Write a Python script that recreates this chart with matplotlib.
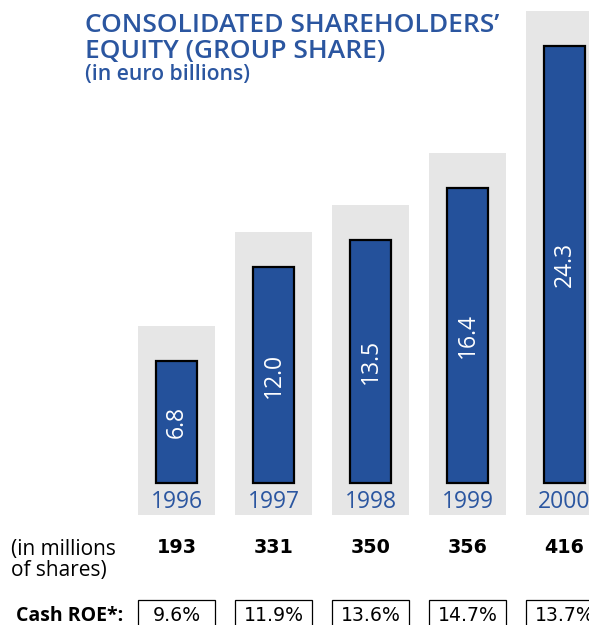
import matplotlib
matplotlib.use("Agg")
import matplotlib.pyplot as plt
import numpy as np

# data
years = ["1996", "1997", "1998", "1999", "2000"]
equity = [6.8, 12.0, 13.5, 16.4, 24.3]
shares = ["193", "331", "350", "356", "416"]
cash_roe = ["9.6%", "11.9%", "13.6%", "14.7%", "13.7%"]

BLUE = "#24519b"
TEXT_BLUE = "#2b56a0"
GRAY = "#e6e6e6"
FONT = "Open Sans"
WIDE = "DejaVu Sans"

W, H = 589, 625
fig = plt.figure(figsize=(W / 100, H / 100), dpi=100)
ax = fig.add_axes([0, 0, 1, 1])

# pixel mapping: value 0 sits at y=483 px, 18 px per billion; bar pitch 97 px
def vy(py):
    return (483 - py) / 18.0

ax.set_xlim(-176.5 / 97, (W - 176.5) / 97)
ax.set_ylim(vy(H), vy(0))
ax.axis("off")

x = np.arange(len(years))
vals = np.array(equity)

# gray backdrops
bg_bottom = vy(515)
ax.bar(x, vals + 1.95 - bg_bottom, bottom=bg_bottom, width=0.804,
       color=GRAY, linewidth=0, zorder=1)
# bars
ax.bar(x, vals, width=0.423, color=BLUE, edgecolor="black",
       linewidth=1.6, zorder=2)

for xi, v, yr in zip(x, vals, years):
    ax.text(xi, v / 2, f"{v:.1f}", rotation=90, ha="center", va="center",
            color="white", fontsize=16.5, family=FONT, zorder=3)
    ax.text(xi, vy(508), yr, ha="center", va="baseline", color=TEXT_BLUE,
            fontsize=16.5, family=FONT, zorder=3)

# number of shares row
for xi, s in zip(x, shares):
    ax.text(xi, vy(553), s, ha="center", va="baseline", color="black",
            fontsize=13.8, fontweight="bold", family=WIDE)
fig.text(11 / W, 1 - 555 / H, "(in millions", ha="left", va="baseline",
         fontsize=15, family=FONT)
fig.text(11 / W, 1 - 576 / H, "of shares)", ha="left", va="baseline",
         fontsize=15, family=FONT)

# cash ROE row
box_bottom = vy(640)
ax.bar(x, vy(600) - box_bottom, bottom=box_bottom, width=0.79, fill=False,
       edgecolor="black", linewidth=0.9, zorder=2)
for xi, r in zip(x, cash_roe):
    ax.text(xi, vy(621), r, ha="center", va="baseline", color="black",
            fontsize=13.6, family=WIDE)
fig.text(123 / W, 1 - 621 / H, "Cash ROE*:", ha="right", va="baseline",
         fontsize=14, fontweight="bold", family=FONT)

# title
fig.text(85 / W, 1 - 32 / H, "CONSOLIDATED SHAREHOLDERS\u2019", ha="left",
         va="baseline", color=TEXT_BLUE, fontsize=19, fontweight="semibold",
         family=FONT)
fig.text(85 / W, 1 - 58 / H, "EQUITY (GROUP SHARE)", ha="left",
         va="baseline", color=TEXT_BLUE, fontsize=19, fontweight="semibold",
         family=FONT)
fig.text(85 / W, 1 - 80 / H, "(in euro billions)", ha="left",
         va="baseline", color=TEXT_BLUE, fontsize=15.2, fontweight="semibold",
         family=FONT)

fig.savefig("out.png", dpi=100)
